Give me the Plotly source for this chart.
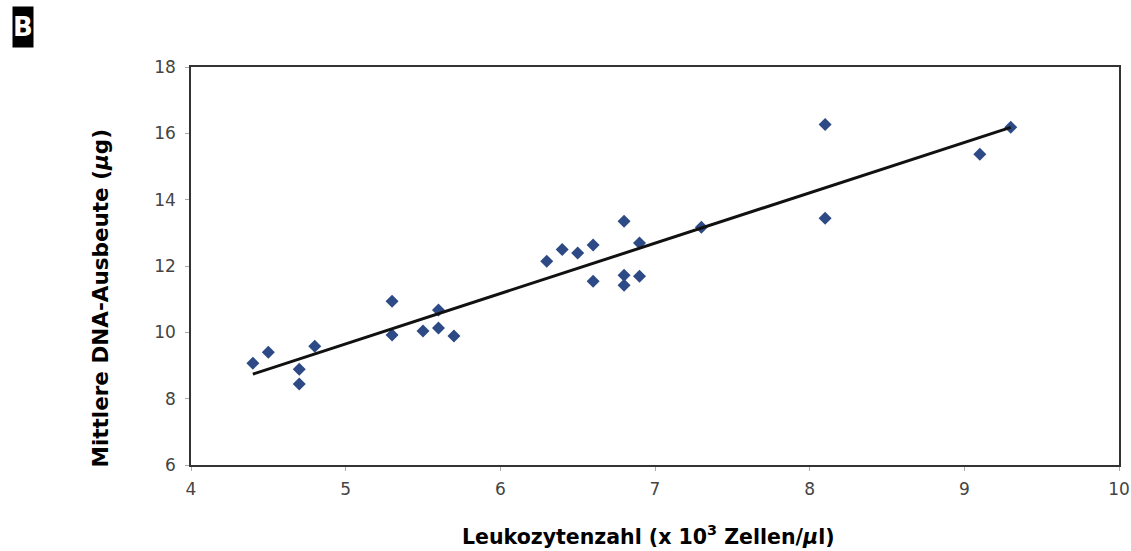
import numpy as np
import plotly.graph_objects as go

leuko = [4.4, 4.5, 4.7, 4.7, 4.8, 5.3, 5.3, 5.5, 5.6, 5.6, 5.7,
         6.3, 6.4, 6.5, 6.6, 6.6, 6.8, 6.8, 6.8, 6.9, 6.9,
         7.3, 8.1, 8.1, 9.1, 9.3]
dna = [9.07, 9.40, 8.89, 8.44, 9.58, 10.94, 9.92, 10.04, 10.67, 10.13, 9.89,
       12.14, 12.50, 12.39, 12.63, 11.54, 13.35, 11.72, 11.42, 12.69, 11.69,
       13.17, 16.27, 13.44, 15.37, 16.18]

x_ticks = [4, 5, 6, 7, 8, 9, 10]
y_ticks = [6, 8, 10, 12, 14, 16, 18]

slope, intercept = np.polyfit(leuko, dna, 1)
trend_x = [min(leuko), max(leuko)]
trend_y = [slope * v + intercept for v in trend_x]

fig = go.Figure()
fig.add_trace(go.Scatter(x=leuko, y=dna, mode="markers",
                         marker=dict(symbol="diamond", size=10, color="#2d4a86"),
                         showlegend=False))
fig.add_trace(go.Scatter(x=trend_x, y=trend_y, mode="lines",
                         line=dict(color="#111111", width=3), showlegend=False))

axis_common = dict(showline=True, linecolor="#333333", linewidth=1.5, mirror=True,
                   ticks="outside", ticklen=4, tickcolor="#aaaaaa", showgrid=False,
                   zeroline=False, automargin=False,
                   tickfont=dict(family="DejaVu Sans", size=17, color="#444444"))

fig.update_xaxes(range=[4, 10], tickvals=x_ticks, ticklabelstandoff=4, **axis_common)
fig.update_yaxes(range=[6, 18], tickvals=y_ticks, ticklabelstandoff=6, **axis_common)

fig.add_annotation(xref="paper", yref="paper", x=0.4925, y=-0.176,
                   xanchor="center", yanchor="middle", showarrow=False,
                   text="<b>Leukozytenzahl (x 10<sup>3</sup> Zellen/<i>µ</i>l)</b>",
                   font=dict(family="DejaVu Sans", size=20.5, color="black"))
fig.add_annotation(xref="paper", yref="paper", x=-0.0975, y=0.4196,
                   xanchor="center", yanchor="middle", showarrow=False, textangle=-90,
                   text="<b>Mittlere DNA-Ausbeute (<i>µ</i>g)</b>",
                   font=dict(family="DejaVu Sans", size=21.5, color="black"))

fig.add_annotation(xref="paper", yref="paper", x=-0.1929, y=1.1533,
                   xanchor="left", yanchor="top", text="<b>B</b>", showarrow=False,
                   font=dict(family="DejaVu Sans", size=26, color="white"),
                   bgcolor="black", width=20, height=40, borderpad=0)

fig.update_layout(width=1131, height=551, margin=dict(l=191, r=12, t=67, b=86),
                  plot_bgcolor="white", paper_bgcolor="white")
fig.write_html("out.html")
